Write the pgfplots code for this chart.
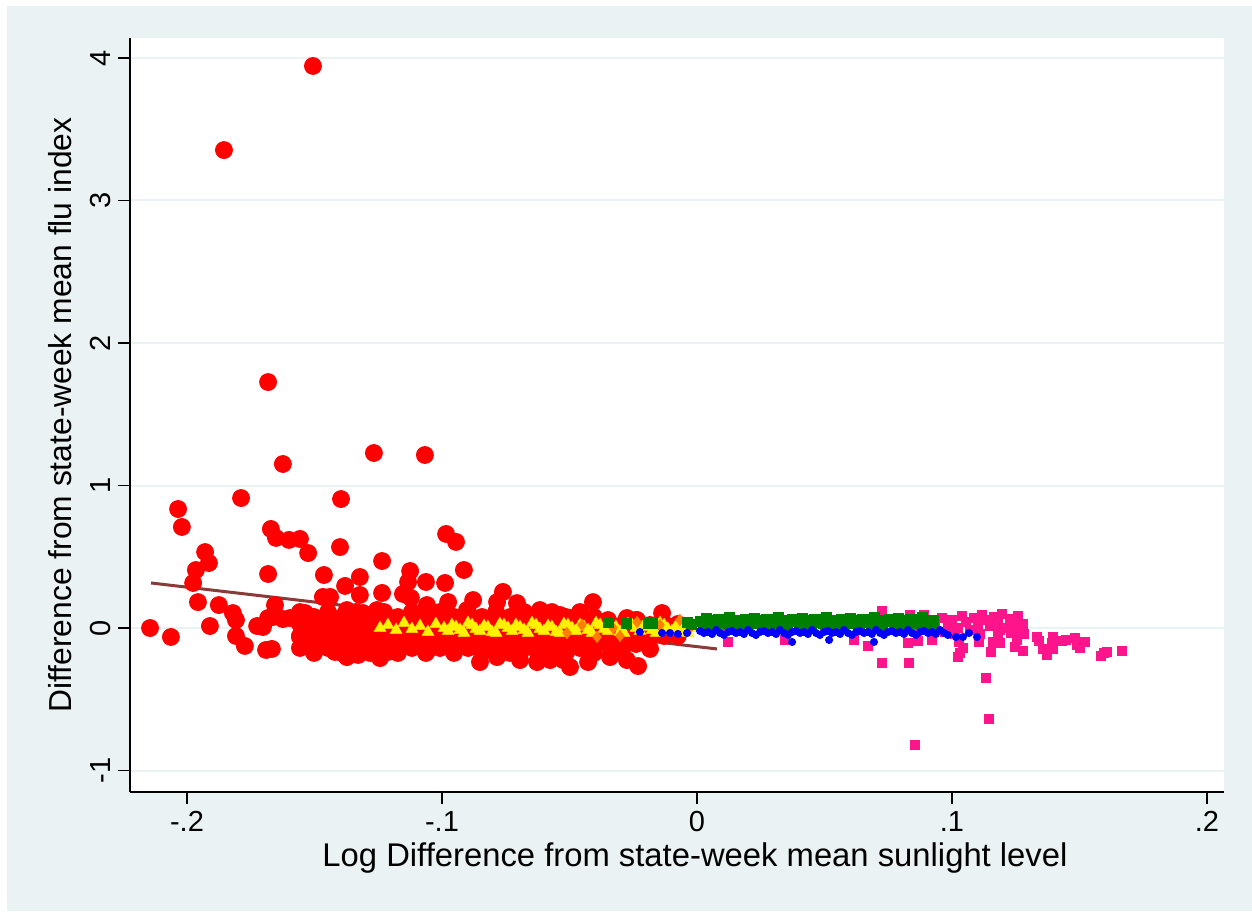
\documentclass[border=0pt]{standalone}
\usepackage{fontspec}
\setmainfont{Liberation Sans}
\usepackage{pgfplots}
\pgfplotsset{compat=1.18}
\definecolor{bgc}{RGB}{234,242,243}
\definecolor{pinkc}{RGB}{255,20,140}
\definecolor{linec}{RGB}{139,58,58}
\definecolor{orangec}{RGB}{255,128,0}
\definecolor{greenc}{RGB}{0,128,0}
\begin{document}
\begin{tikzpicture}
\useasboundingbox (-65pt,-59.5pt) rectangle (561pt,396pt);
\fill[white] (-65pt,-59.5pt) rectangle (561pt,396pt);
\fill[bgc] (-61.5pt,-59.5pt) rectangle (561pt,393pt);
\begin{axis}[
 at={(0,0)}, anchor=south west,
 scale only axis, width=547pt, height=377pt,
 xmin=-0.22235, xmax=0.20667, ymin=-1.1509, ymax=4.1404,
 axis lines*=left,
 axis line style={black, line width=0.9pt},
 axis background/.style={fill=white},
 xtick={-0.2,-0.1,0,0.1,0.2}, xticklabels={-.2,-.1,0,.1,.2},
 ytick={-1,0,1,2,3,4}, yticklabels={-1,0,1,2,3,4},
 tick align=outside, major tick length=6pt,
 tick style={black, line width=0.9pt},
 ymajorgrids, major grid style={bgc, line width=1pt},
 ticklabel style={font=\fontsize{14.5}{17}\selectfont},
 yticklabel style={rotate=90, anchor=south},
 xlabel={Log Difference from state-week mean sunlight level},
 ylabel={Difference from state-week mean flu index},
 xlabel style={font=\fontsize{16.4}{19}\selectfont, at={(axis description cs:0.5,0)}, anchor=center, yshift=-33pt, xshift=9pt},
 ylabel style={font=\fontsize{15.9}{19}\selectfont, at={(axis description cs:0,0.5)}, anchor=center, yshift=35pt},
]
% red circles
\addplot[only marks, mark=*, mark size=4.25pt, red, mark options={draw=red, fill=red}] coordinates {
(-0.1506,3.944) (-0.1855,3.354) (-0.1682,1.726) (-0.1624,1.151) (-0.1267,1.228) (-0.1067,1.214)
(-0.1788,0.912) (-0.1396,0.905) (-0.2035,0.835) (-0.2020,0.709) (-0.1671,0.695) (-0.1651,0.632)
(-0.1600,0.618) (-0.1557,0.625) (-0.1525,0.526) (-0.1400,0.568) (-0.0984,0.660) (-0.0945,0.604)
(-0.1929,0.533) (-0.1914,0.456) (-0.1965,0.407) (-0.1976,0.316) (-0.1682,0.379) (-0.1235,0.470)
(-0.1463,0.372) (-0.1322,0.358) (-0.0914,0.407) (-0.1125,0.400) (-0.1380,0.295) (-0.1133,0.323)
(-0.1063,0.323) (-0.0988,0.316) (-0.1322,0.232) (-0.1467,0.218) (-0.1439,0.218) (-0.1235,0.246)
(-0.1153,0.239) (-0.1122,0.211) (-0.1059,0.161) (-0.1957,0.182) (-0.1875,0.161) (-0.1820,0.105)
(-0.1808,0.056) (-0.1910,0.014) (-0.2145,0.000) (-0.2063,-0.063) (-0.1808,-0.056) (-0.1773,-0.126)
(-0.1655,0.161) (-0.1663,0.077) (-0.1725,0.014) (-0.1702,0.007) (-0.1682,0.070) (-0.1624,0.063)
(-0.1596,0.070) (-0.1537,0.105) (-0.1510,0.077) (-0.1557,-0.063) (-0.1529,-0.119) (-0.1690,-0.154)
(-0.1667,-0.147) (-0.1420,-0.168) (-0.1373,-0.204) (-0.1329,-0.189) (-0.1243,-0.211) (-0.1212,-0.168)
(-0.1055,-0.154) (-0.0851,-0.239) (-0.0784,-0.204) (-0.0694,-0.225) (-0.0627,-0.239) (-0.0576,-0.225)
(-0.0525,-0.225) (-0.0498,-0.274) (-0.0427,-0.239) (-0.0341,-0.204) (-0.0275,-0.225) (-0.0231,-0.267)
(-0.0976,0.182) (-0.0878,0.196) (-0.0902,0.126) (-0.0761,0.253) (-0.0784,0.182) (-0.0706,0.175)
(-0.0616,0.126) (-0.0408,0.182) (-0.0137,0.105) (-0.0537,0.091) (-0.0498,0.070) (-0.1373,0.126)
(-0.1255,0.126) (-0.1310,0.105) (-0.0275,0.070) (-0.0235,0.056) (-0.0184,-0.049)
(-0.1557,0.112) (-0.1557,0.028) (-0.1557,-0.056) (-0.1557,-0.140)
(-0.1502,0.077) (-0.1502,-0.007) (-0.1502,-0.091) (-0.1502,-0.175)
(-0.1447,0.112) (-0.1447,0.028) (-0.1447,-0.056) (-0.1447,-0.140)
(-0.1392,0.077) (-0.1392,-0.007) (-0.1392,-0.091) (-0.1392,-0.175)
(-0.1337,0.112) (-0.1337,0.028) (-0.1337,-0.056) (-0.1337,-0.140)
(-0.1282,0.077) (-0.1282,-0.007) (-0.1282,-0.091) (-0.1282,-0.175)
(-0.1227,0.112) (-0.1227,0.028) (-0.1227,-0.056) (-0.1227,-0.140)
(-0.1173,0.077) (-0.1173,-0.007) (-0.1173,-0.091) (-0.1173,-0.175)
(-0.1118,0.112) (-0.1118,0.028) (-0.1118,-0.056) (-0.1118,-0.140)
(-0.1063,0.077) (-0.1063,-0.007) (-0.1063,-0.091) (-0.1063,-0.175)
(-0.1008,0.112) (-0.1008,0.028) (-0.1008,-0.056) (-0.1008,-0.140)
(-0.0953,0.077) (-0.0953,-0.007) (-0.0953,-0.091) (-0.0953,-0.175)
(-0.0898,0.112) (-0.0898,0.028) (-0.0898,-0.056) (-0.0898,-0.140)
(-0.0843,0.077) (-0.0843,-0.007) (-0.0843,-0.091) (-0.0843,-0.175)
(-0.0788,0.112) (-0.0788,0.028) (-0.0788,-0.056) (-0.0788,-0.140)
(-0.0733,0.077) (-0.0733,-0.007) (-0.0733,-0.091) (-0.0733,-0.175)
(-0.0678,0.112) (-0.0678,0.028) (-0.0678,-0.056) (-0.0678,-0.140)
(-0.0624,0.077) (-0.0624,-0.007) (-0.0624,-0.091) (-0.0624,-0.175)
(-0.0569,0.112) (-0.0569,0.028) (-0.0569,-0.056) (-0.0569,-0.140)
(-0.0514,0.077) (-0.0514,-0.007) (-0.0514,-0.091) (-0.0514,-0.175)
(-0.0459,0.112) (-0.0459,0.028) (-0.0459,-0.056) (-0.0459,-0.140)
(-0.0404,0.077) (-0.0404,-0.007) (-0.0404,-0.091) (-0.0404,-0.175)
(-0.0349,0.056) (-0.0349,-0.028) (-0.0349,-0.112)
(-0.0294,0.021) (-0.0294,-0.063) (-0.0294,-0.147)
(-0.0239,0.056) (-0.0239,-0.028) (-0.0239,-0.112)
(-0.0184,0.021) (-0.0184,-0.063) (-0.0184,-0.147)
(-0.0129,0.028) (-0.0129,-0.056)
(-0.0075,0.028) (-0.0075,-0.056)
};
% pink squares
\addplot[only marks, mark=square*, mark size=2.25pt, pinkc, mark options={draw=pinkc, fill=pinkc}] coordinates {
(0.0122,-0.098) (0.0345,-0.084) (0.0616,-0.084) (0.0671,-0.126) (0.0725,-0.246) (0.0831,-0.246)
(0.0827,-0.105) (0.0867,-0.091) (0.0922,-0.084) (0.0725,0.119) (0.0835,0.091) (0.0890,0.091)
(0.1133,-0.351) (0.1145,-0.639) (0.0855,-0.821) (0.1024,-0.204) (0.1031,-0.175) (0.1043,-0.140)
(0.1027,-0.098) (0.1106,-0.098) (0.1153,-0.168) (0.1161,-0.098) (0.1180,-0.049) (0.1188,-0.105)
(0.1247,-0.133) (0.1255,-0.084) (0.1278,-0.161) (0.1282,-0.042) (0.1278,0.028) (0.1333,-0.063)
(0.1341,-0.091) (0.1357,-0.147) (0.1373,-0.189) (0.1392,-0.105) (0.1396,-0.063) (0.1396,-0.147)
(0.1431,-0.091) (0.1447,-0.084) (0.1482,-0.070) (0.1490,-0.119) (0.1502,-0.140) (0.1522,-0.098)
(0.1584,-0.196) (0.1596,-0.175) (0.1608,-0.168) (0.1667,-0.161)
(0.0933,0.042) (0.0961,0.070) (0.0984,0.014) (0.1000,0.056) (0.1024,0.000) (0.1039,0.084)
(0.1055,0.042) (0.1071,-0.014) (0.1086,0.070) (0.1102,0.028) (0.1118,0.091) (0.1133,0.056)
(0.1149,0.014) (0.1165,0.077) (0.1180,0.042) (0.1196,0.098) (0.1212,0.000) (0.1227,0.063)
(0.1243,0.028) (0.1259,0.084) (0.1267,-0.014) (0.0973,-0.028) (0.1012,-0.042) (0.1110,-0.042)
(0.1188,-0.014) (0.1231,-0.035)
(0.0100,-0.010) (0.0300,-0.005) (0.0500,-0.010) (0.0700,-0.005) (0.0850,0.010) (0.0900,0.040)
};
% yellow triangles
\addplot[only marks, mark=triangle*, mark size=3.3pt, yellow, mark options={draw=yellow, fill=yellow}] coordinates {
(-0.1243,0.000) (-0.1212,0.021) (-0.1180,-0.014) (-0.1149,0.035) (-0.1118,-0.007) (-0.1086,0.014)
(-0.1055,-0.028) (-0.1024,0.028) (-0.0992,0.000) (-0.0961,0.021) (-0.0929,-0.014) (-0.0898,0.035)
(-0.0867,-0.007) (-0.0835,0.014) (-0.0804,-0.028) (-0.0773,0.028) (-0.0741,0.000) (-0.0710,0.021)
(-0.0678,-0.014) (-0.0647,0.035) (-0.0616,-0.007) (-0.0584,0.014) (-0.0553,-0.028) (-0.0522,0.028)
(-0.0490,0.000) (-0.0459,0.021) (-0.0427,-0.014) (-0.0396,0.035) (-0.0365,-0.007) (-0.0333,0.014)
(-0.0302,-0.028) (-0.0271,0.028) (-0.0239,0.000) (-0.0208,0.021) (-0.0176,-0.014) (-0.0145,0.035)
(-0.0114,-0.007) (-0.0082,0.014) (-0.0051,-0.028) (-0.0020,0.028) (0.0012,0.000)
(-0.0976,-0.021) (-0.0945,0.007) (-0.0914,-0.035) (-0.0882,0.021) (-0.0851,-0.021) (-0.0820,0.007)
(-0.0788,-0.035) (-0.0757,0.021) (-0.0725,-0.021) (-0.0694,0.007) (-0.0663,-0.035) (-0.0631,0.021)
(-0.0600,-0.021) (-0.0569,0.007) (-0.0537,-0.035) (-0.0506,0.021) (-0.0475,-0.021) (-0.0443,0.007)
(-0.0412,-0.035) (-0.0380,0.021) (-0.0349,-0.021) (-0.0318,0.007) (-0.0286,-0.035) (-0.0255,0.021)
(-0.0224,-0.021) (-0.0192,0.007) (-0.0161,-0.035) (-0.0129,0.021) (-0.0098,-0.021) (-0.0067,0.007)
(-0.0035,-0.035)
};
% orange diamonds
\addplot[only marks, mark=diamond*, mark size=2.8pt, orangec, mark options={draw=orangec, fill=orangec}] coordinates {
(-0.0451,0.021) (-0.0392,-0.063) (-0.0302,-0.056) (-0.0329,0.000) (-0.0510,-0.035)
(-0.0235,0.042) (-0.0067,0.056) (-0.0145,0.021) (-0.0027,0.000)
};
% green squares
\addplot[only marks, mark=square*, mark size=2.5pt, greenc, mark options={draw=greenc, fill=greenc}] coordinates {
(-0.0349,0.042) (-0.0278,0.035) (-0.0192,0.035) (-0.0176,0.035) (-0.0039,0.042) (-0.0020,0.028)
(0.0012,0.049) (0.0035,0.070) (0.0059,0.035) (0.0082,0.063) (0.0106,0.042) (0.0129,0.077)
(0.0153,0.028) (0.0176,0.056) (0.0200,0.049) (0.0224,0.070) (0.0247,0.035) (0.0271,0.063)
(0.0294,0.042) (0.0318,0.077) (0.0341,0.028) (0.0365,0.056) (0.0388,0.049) (0.0412,0.070)
(0.0435,0.035) (0.0459,0.063) (0.0482,0.042) (0.0506,0.077) (0.0529,0.028) (0.0553,0.056)
(0.0576,0.049) (0.0600,0.070) (0.0624,0.035) (0.0647,0.063) (0.0671,0.042) (0.0694,0.077)
(0.0718,0.028) (0.0741,0.056) (0.0765,0.049) (0.0788,0.070) (0.0812,0.035) (0.0835,0.063)
(0.0859,0.042) (0.0882,0.077) (0.0906,0.028) (0.0929,0.056)
(0.0024,0.035) (0.0047,0.056) (0.0071,0.021) (0.0094,0.063) (0.0118,0.035) (0.0141,0.056)
(0.0165,0.021) (0.0188,0.063) (0.0212,0.035) (0.0235,0.056) (0.0259,0.021) (0.0282,0.063)
(0.0306,0.035) (0.0329,0.056) (0.0353,0.021) (0.0376,0.063) (0.0400,0.035) (0.0424,0.056)
(0.0447,0.021) (0.0471,0.063) (0.0494,0.035) (0.0518,0.056) (0.0541,0.021) (0.0565,0.063)
(0.0588,0.035) (0.0612,0.056) (0.0635,0.021) (0.0659,0.063) (0.0682,0.035) (0.0706,0.056)
(0.0729,0.021) (0.0753,0.063) (0.0776,0.035) (0.0800,0.056) (0.0824,0.021) (0.0847,0.063)
(0.0871,0.035) (0.0894,0.056) (0.0918,0.021)
};
% blue dots
\addplot[only marks, mark=*, mark size=1.8pt, blue, mark options={draw=blue, fill=blue}] coordinates {
(-0.0224,-0.028) (-0.0137,-0.035) (-0.0106,-0.035) (-0.0075,-0.042) (-0.0039,-0.035)
(0.0012,-0.021) (0.0027,-0.035) (0.0043,-0.028) (0.0059,-0.042) (0.0075,-0.014) (0.0090,-0.035)
(0.0106,-0.049) (0.0122,-0.028) (0.0137,-0.021) (0.0153,-0.035) (0.0169,-0.028) (0.0184,-0.042)
(0.0200,-0.014) (0.0216,-0.035) (0.0231,-0.049) (0.0247,-0.028) (0.0263,-0.021) (0.0278,-0.035)
(0.0294,-0.028) (0.0310,-0.042) (0.0325,-0.014) (0.0341,-0.035) (0.0357,-0.049) (0.0373,-0.028)
(0.0388,-0.021) (0.0404,-0.035) (0.0420,-0.028) (0.0435,-0.042) (0.0451,-0.014) (0.0467,-0.035)
(0.0482,-0.049) (0.0498,-0.028) (0.0514,-0.021) (0.0529,-0.035) (0.0545,-0.028) (0.0561,-0.042)
(0.0576,-0.014) (0.0592,-0.035) (0.0608,-0.049) (0.0624,-0.028) (0.0639,-0.021) (0.0655,-0.035)
(0.0671,-0.028) (0.0686,-0.042) (0.0702,-0.014) (0.0718,-0.035) (0.0733,-0.049) (0.0749,-0.028)
(0.0765,-0.021) (0.0780,-0.035) (0.0796,-0.028) (0.0812,-0.042) (0.0827,-0.014) (0.0843,-0.035)
(0.0859,-0.049) (0.0875,-0.028) (0.0890,-0.021) (0.0906,-0.035) (0.0922,-0.028) (0.0937,-0.042)
(0.0953,-0.014) (0.0969,-0.035) (0.0984,-0.049)
(0.1016,-0.063) (0.1043,-0.063) (0.1067,-0.035) (0.1098,-0.063)
(0.0373,-0.098) (0.0518,-0.084) (0.0694,-0.098)
};
% fitted line
\addplot[linec, line width=1.5pt] coordinates {(-0.2141,0.316) (0.0078,-0.147)};
\end{axis}
\end{tikzpicture}
\end{document}
